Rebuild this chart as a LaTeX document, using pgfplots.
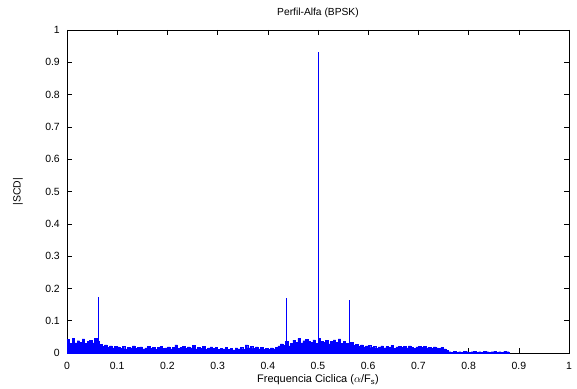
\documentclass[border=0pt]{standalone}
\usepackage{pgfplots}
\usepackage{pgfplotstable}
\pgfplotsset{compat=1.18}
\usepackage{fontspec}
\setmainfont{Liberation Sans}
\pgfplotstableread{
y
0.042
0.030
0.046
0.031
0.038
0.033
0.044
0.029
0.036
0.040
0.031
0.045
0.037
0.027
0.021
0.025
0.018
0.022
0.016
0.021
0.019
0.015
0.020
0.013
0.018
0.016
0.022
0.014
0.017
0.019
0.013
0.016
0.021
0.015
0.018
0.012
0.017
0.020
0.014
0.016
0.019
0.013
0.018
0.025
0.015
0.017
0.021
0.014
0.019
0.016
0.023
0.013
0.017
0.015
0.020
0.012
0.016
0.019
0.014
0.018
0.011
0.015
0.013
0.017
0.012
0.014
0.010
0.016
0.013
0.018
0.012
0.025
0.016
0.021
0.014
0.019
0.013
0.017
0.011
0.015
0.012
0.016
0.013
0.018
0.022
0.028
0.024
0.035
0.022
0.030
0.040
0.033
0.045
0.031
0.038
0.042
0.036
0.034
0.041
0.030
0.046
0.037
0.032
0.039
0.028
0.036
0.041
0.033
0.044
0.029
0.036
0.030
0.026
0.034
0.023
0.027
0.020
0.025
0.019
0.022
0.024
0.017
0.021
0.015
0.019
0.022
0.016
0.020
0.018
0.023
0.015
0.019
0.021
0.017
0.020
0.016
0.022
0.018
0.015
0.019
0.021
0.017
0.020
0.016
0.018
0.014
0.019
0.016
0.015
0.018
0.013
0.008
0.004
0.003
0.005
0.003
0.004
0.003
0.006
0.004
0.003
0.004
0.005
0.003
0.004
0.003
0.005
0.004
0.003
0.004
0.005
0.003
0.004
0.003
0.005
0.004
0.003
}\noise
\begin{document}
\fontsize{10.5}{12}\selectfont
\begin{tikzpicture}
\begin{axis}[
  scale only axis,
  width=502bp, height=323bp,
  xmin=0, xmax=1, ymin=0, ymax=1,
  xtick={0,0.1,...,1}, ytick={0,0.1,...,1},
  xticklabels={0,0.1,0.2,0.3,0.4,0.5,0.6,0.7,0.8,0.9,1},
  yticklabels={0,0.1,0.2,0.3,0.4,0.5,0.6,0.7,0.8,0.9,1},
  tick align=inside,
  major tick length=5bp,
  tick style={black, line width=0.5pt},
  axis line style={line width=0.7pt},
  /pgf/number format/assume math mode=true,
  ticklabel style={font=\fontsize{10.5}{12}\selectfont},
  yticklabel style={xshift=-3.5bp},
  xticklabel style={yshift=-6bp},
  title={Perfil-Alfa (BPSK)},
  title style={font=\fontsize{10.3}{12}\selectfont, at={(axis description cs:0.5,1)}, anchor=center, yshift=11bp},
  xlabel={Frequencia Ciclica ($\alpha$/F$_\mathrm{s}$)},
  xlabel style={font=\fontsize{11}{13}\selectfont, at={(axis description cs:0.5,0)}, anchor=center, yshift=-27bp},
  ylabel={|SCD|},
  ylabel style={font=\fontsize{10.5}{12}\selectfont, at={(axis description cs:-0.0976,0.5)}, anchor=center},
]
\addplot[const plot, fill=blue, draw=blue, line width=0.4pt] table[x expr=\coordindex*0.005, y=y] {\noise} \closedcycle;
\addplot[ycomb, blue, line width=1pt, mark=none] coordinates {
(0.0625,0.173) (0.4375,0.170) (0.5,0.932) (0.5625,0.164)
};
\coordinate (sw) at (rel axis cs:0,0);
\coordinate (ne) at (rel axis cs:1,1);
\end{axis}
\pgfresetboundingbox
\path ([xshift=-67bp,yshift=-36bp]sw) rectangle ([xshift=8bp,yshift=30bp]ne);
\end{tikzpicture}
\end{document}
